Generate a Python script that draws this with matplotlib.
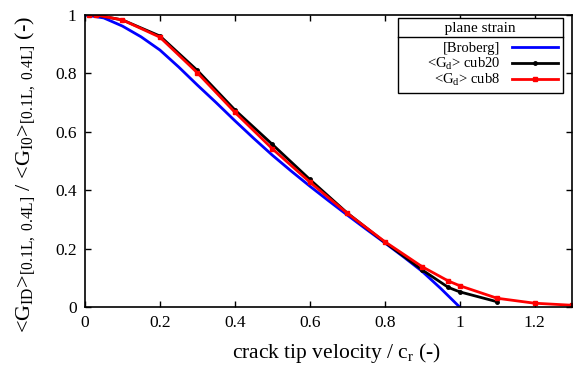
import matplotlib
matplotlib.use("Agg")
import matplotlib.pyplot as plt
from matplotlib.lines import Line2D

plt.rcParams['font.family'] = ['Liberation Serif', 'DejaVu Serif']
plt.rcParams['mathtext.fontset'] = 'custom'
plt.rcParams['mathtext.rm'] = 'Liberation Serif'
plt.rcParams['mathtext.it'] = 'Liberation Serif:italic'

# Broberg analytical curve
broberg_x = [0.0, 0.05, 0.1, 0.15, 0.2, 0.25, 0.3, 0.35, 0.4, 0.45, 0.5, 0.55,
             0.6, 0.65, 0.7, 0.75, 0.8, 0.85, 0.9, 0.95, 1.0]
broberg_y = [1.0, 0.99, 0.962, 0.925, 0.88, 0.822, 0.76, 0.70, 0.638, 0.578, 0.52,
             0.466, 0.414, 0.364, 0.315, 0.267, 0.22, 0.172, 0.122, 0.063, 0.0]

# cub20
cub20_x = [0.01, 0.03, 0.1, 0.2, 0.3, 0.4, 0.5, 0.6, 0.7, 0.8, 0.9, 0.97, 1.0, 1.1]
cub20_y = [1.0, 1.0, 0.983, 0.928, 0.81, 0.675, 0.557, 0.437, 0.322, 0.222, 0.127,
           0.067, 0.052, 0.018]

# cub8
cub8_x = [0.01, 0.03, 0.1, 0.2, 0.3, 0.4, 0.5, 0.6, 0.7, 0.8, 0.9, 0.97, 1.0, 1.1,
          1.2, 1.3]
cub8_y = [1.0, 1.0, 0.983, 0.924, 0.802, 0.667, 0.542, 0.428, 0.321, 0.224, 0.138,
          0.089, 0.073, 0.030, 0.013, 0.006]

xticks = [0, 0.2, 0.4, 0.6, 0.8, 1, 1.2]
yticks = [0, 0.2, 0.4, 0.6, 0.8, 1]

fig = plt.figure(figsize=(5.76, 3.70), dpi=100)
ax = fig.add_axes([85/576, 1 - 307/370, 487/576, 292/370])

ax.plot(broberg_x, broberg_y, color='#0000ff', lw=2, label='[Broberg]')
ax.plot(cub20_x, cub20_y, color='black', lw=2, marker='o', ms=2.5,
        label='<G$_{\\mathrm{d}}$> cub20')
ax.plot(cub8_x, cub8_y, color='#ff0000', lw=2, marker='s', ms=3.2,
        label='<G$_{\\mathrm{d}}$> cub8')

ax.set_xlim(0, 1.3)
ax.set_ylim(0, 1)
ax.set_xticks(xticks)
ax.set_xticklabels(['0', '0.2', '0.4', '0.6', '0.8', '1', '1.2'])
ax.set_yticks(yticks)
ax.set_yticklabels(['0', '0.2', '0.4', '0.6', '0.8', '1'])
ax.tick_params(direction='in', top=True, right=True, labelsize=12.5, length=4,
               width=1, pad=6)
for s in ax.spines.values():
    s.set_linewidth(1.2)

ax.set_xlabel('crack tip velocity / c$_{\\mathrm{r}}$ (-)', fontsize=15.5)
ax.xaxis.set_label_coords(0.516, -0.115)
ax.set_ylabel('<G$_{\\mathrm{ID}}$>$_{[0.1\\mathrm{L},\\ 0.4\\mathrm{L}]}$ / '
              '<G$_{\\mathrm{I0}}$>$_{[0.1\\mathrm{L},\\ 0.4\\mathrm{L}]}$ (-)',
              fontsize=16)
ax.yaxis.set_label_coords(-0.098, 0.455)

pad = ' ' * 11
leg = ax.legend(loc='upper right', bbox_to_anchor=(0.981, 0.99), borderaxespad=0,
                markerfirst=False, fancybox=False, edgecolor='black',
                framealpha=1, fontsize=10.5, title=pad + 'plane strain' + pad,
                title_fontsize=11, handlelength=3.2, borderpad=0.3,
                labelspacing=0.02, handletextpad=0.8, alignment='right')
leg.get_frame().set_linewidth(1.0)
leg._legend_box.sep = 5

fig.canvas.draw()
renderer = fig.canvas.get_renderer()
lb = leg.get_window_extent(renderer)
tb = leg.get_title().get_window_extent(renderer)
ysep = tb.y0 - 2
inv = fig.transFigure.inverted()
x0, y0 = inv.transform((lb.x0, ysep))
x1, _ = inv.transform((lb.x1, ysep))
fig.add_artist(Line2D([x0, x1], [y0, y0], color='black', lw=1.0,
                      transform=fig.transFigure))

fig.savefig('out.png', dpi=100)
